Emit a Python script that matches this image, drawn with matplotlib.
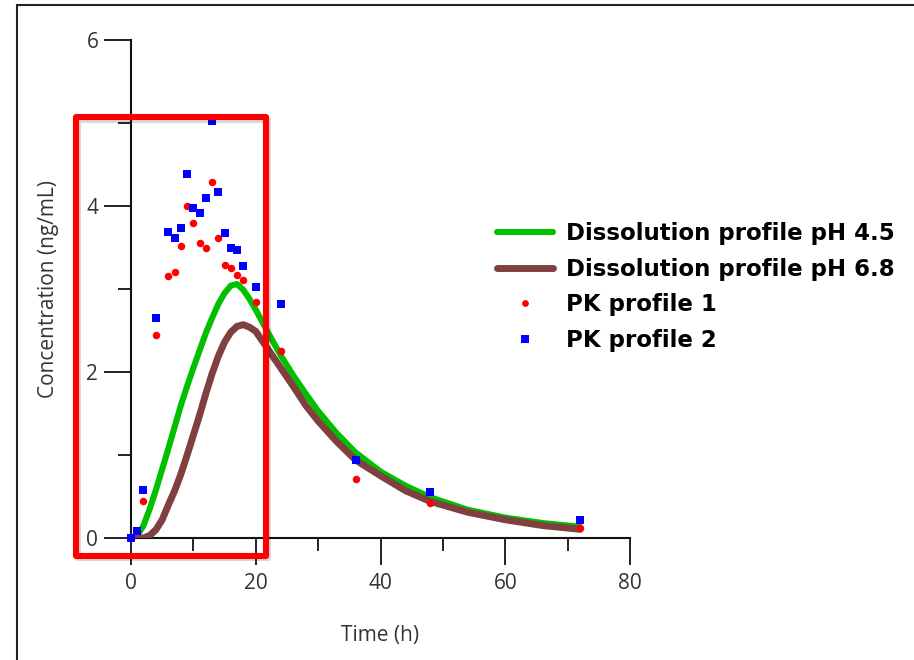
import matplotlib
matplotlib.use("Agg")
import matplotlib.pyplot as plt
import matplotlib.patheffects as pe
from matplotlib.patches import Rectangle
from matplotlib.ticker import MultipleLocator

# Dissolution-based predicted profiles
t_curve = [0, 1, 2, 3, 4, 5, 6, 7, 8, 9, 10, 11, 12, 13, 14, 15, 16, 17, 18, 19, 20,
           22, 24, 26, 28, 30, 33, 36, 40, 44, 48, 54, 60, 66, 72]
conc_ph45 = [0, 0.03, 0.15, 0.35, 0.58, 0.83, 1.08, 1.34, 1.6, 1.83, 2.05, 2.26, 2.47,
             2.65, 2.82, 2.95, 3.04, 3.06, 2.99, 2.88, 2.75, 2.47, 2.2, 1.96, 1.74, 1.53,
             1.26, 1.03, 0.8, 0.63, 0.49, 0.34, 0.245, 0.18, 0.135]
conc_ph68 = [0, 0, 0, 0.03, 0.1, 0.22, 0.4, 0.57, 0.77, 1.0, 1.24, 1.48, 1.74, 1.98,
             2.19, 2.36, 2.48, 2.55, 2.57, 2.54, 2.49, 2.27, 2.05, 1.83, 1.6, 1.41,
             1.16, 0.94, 0.75, 0.57, 0.44, 0.31, 0.22, 0.15, 0.105]

# Observed PK profiles
t_pk = [0, 1, 2, 4, 6, 7, 8, 9, 10, 11, 12, 13, 14, 15, 16, 17, 18, 20, 24, 36, 48, 72]
pk1 = [0, 0.08, 0.45, 2.45, 3.16, 3.21, 3.52, 4.0, 3.8, 3.55, 3.5, 4.29, 3.62, 3.29,
       3.25, 3.17, 3.11, 2.84, 2.25, 0.71, 0.42, 0.12]
pk2 = [0, 0.08, 0.58, 2.65, 3.69, 3.62, 3.74, 4.38, 3.98, 3.92, 4.1, 5.03, 4.17, 3.68,
       3.5, 3.47, 3.28, 3.02, 2.82, 0.94, 0.55, 0.22]

W, H = 914, 660
fig = plt.figure(figsize=(W / 100, H / 100), dpi=100)
ax = fig.add_axes([131 / W, 122 / H, 499 / W, 498 / H])

ax.plot(t_curve, conc_ph45, color="#00c000", lw=4.4, solid_capstyle="round",
        solid_joinstyle="round", label="Dissolution profile pH 4.5", zorder=3)
ax.plot(t_curve, conc_ph68, color="#804040", lw=5.0, solid_capstyle="round",
        solid_joinstyle="round", label="Dissolution profile pH 6.8", zorder=4)
ax.plot(t_pk, pk1, "o", color="#ff0000", ms=5.4, mew=0, clip_on=False,
        label="PK profile 1", zorder=5)
ax.plot(t_pk, pk2, "s", color="#0000ff", ms=6.2, mew=0, clip_on=False,
        label="PK profile 2", zorder=6)

ax.set_xlim(0, 80)
ax.set_ylim(0, 6)
ax.xaxis.set_major_locator(MultipleLocator(20))
ax.xaxis.set_minor_locator(MultipleLocator(10))
ax.yaxis.set_major_locator(MultipleLocator(2))
ax.yaxis.set_minor_locator(MultipleLocator(1))

for s in ["top", "right"]:
    ax.spines[s].set_visible(False)
for s in ["left", "bottom"]:
    ax.spines[s].set_linewidth(1.5)
    ax.spines[s].set_color("#111111")

ax.tick_params(which="major", direction="out", length=19.5, width=1.3,
               color="#111111", labelsize=15, labelcolor="#333333")
ax.tick_params(which="minor", direction="out", length=9.5, width=1.3, color="#111111")
ax.tick_params(axis="x", which="major", pad=6)
ax.tick_params(axis="y", which="major", pad=4)
for lab in ax.get_xticklabels() + ax.get_yticklabels():
    lab.set_family("Open Sans")

ax.set_xlabel("Time (h)", fontsize=15, family="Open Sans", color="#333333")
ax.set_ylabel("Concentration (ng/mL)", fontsize=15, family="Open Sans", color="#333333")
ax.xaxis.set_label_coords(0.5, -0.175)
ax.yaxis.set_label_coords(-0.145, 0.5)

leg = ax.legend(loc="center left", bbox_to_anchor=(497 / W, 1 - 287 / H),
                bbox_transform=fig.transFigure, frameon=False, borderpad=0,
                borderaxespad=0, handlelength=2.45, handletextpad=0.55,
                labelspacing=0.56, markerscale=0.9,
                prop={"family": "DejaVu Sans", "weight": "bold", "size": 16.5})

# screenshot frame
fig.patches.append(Rectangle((17 / W, -0.1), 1.0, 1.1 - 5 / H, transform=fig.transFigure,
                             fill=False, ec="#222222", lw=1.5))

# red highlight box
box = Rectangle((75.5 / W, 1 - 555.5 / H), 190 / W, 438.5 / H, transform=fig.transFigure,
                fill=False, ec="#ff0000", lw=4.4, joinstyle="round", zorder=10)
box.set_path_effects([pe.SimpleLineShadow(offset=(2, -2), shadow_color="k", alpha=0.15),
                      pe.Normal()])
fig.patches.append(box)

fig.savefig("out.png", dpi=100)
